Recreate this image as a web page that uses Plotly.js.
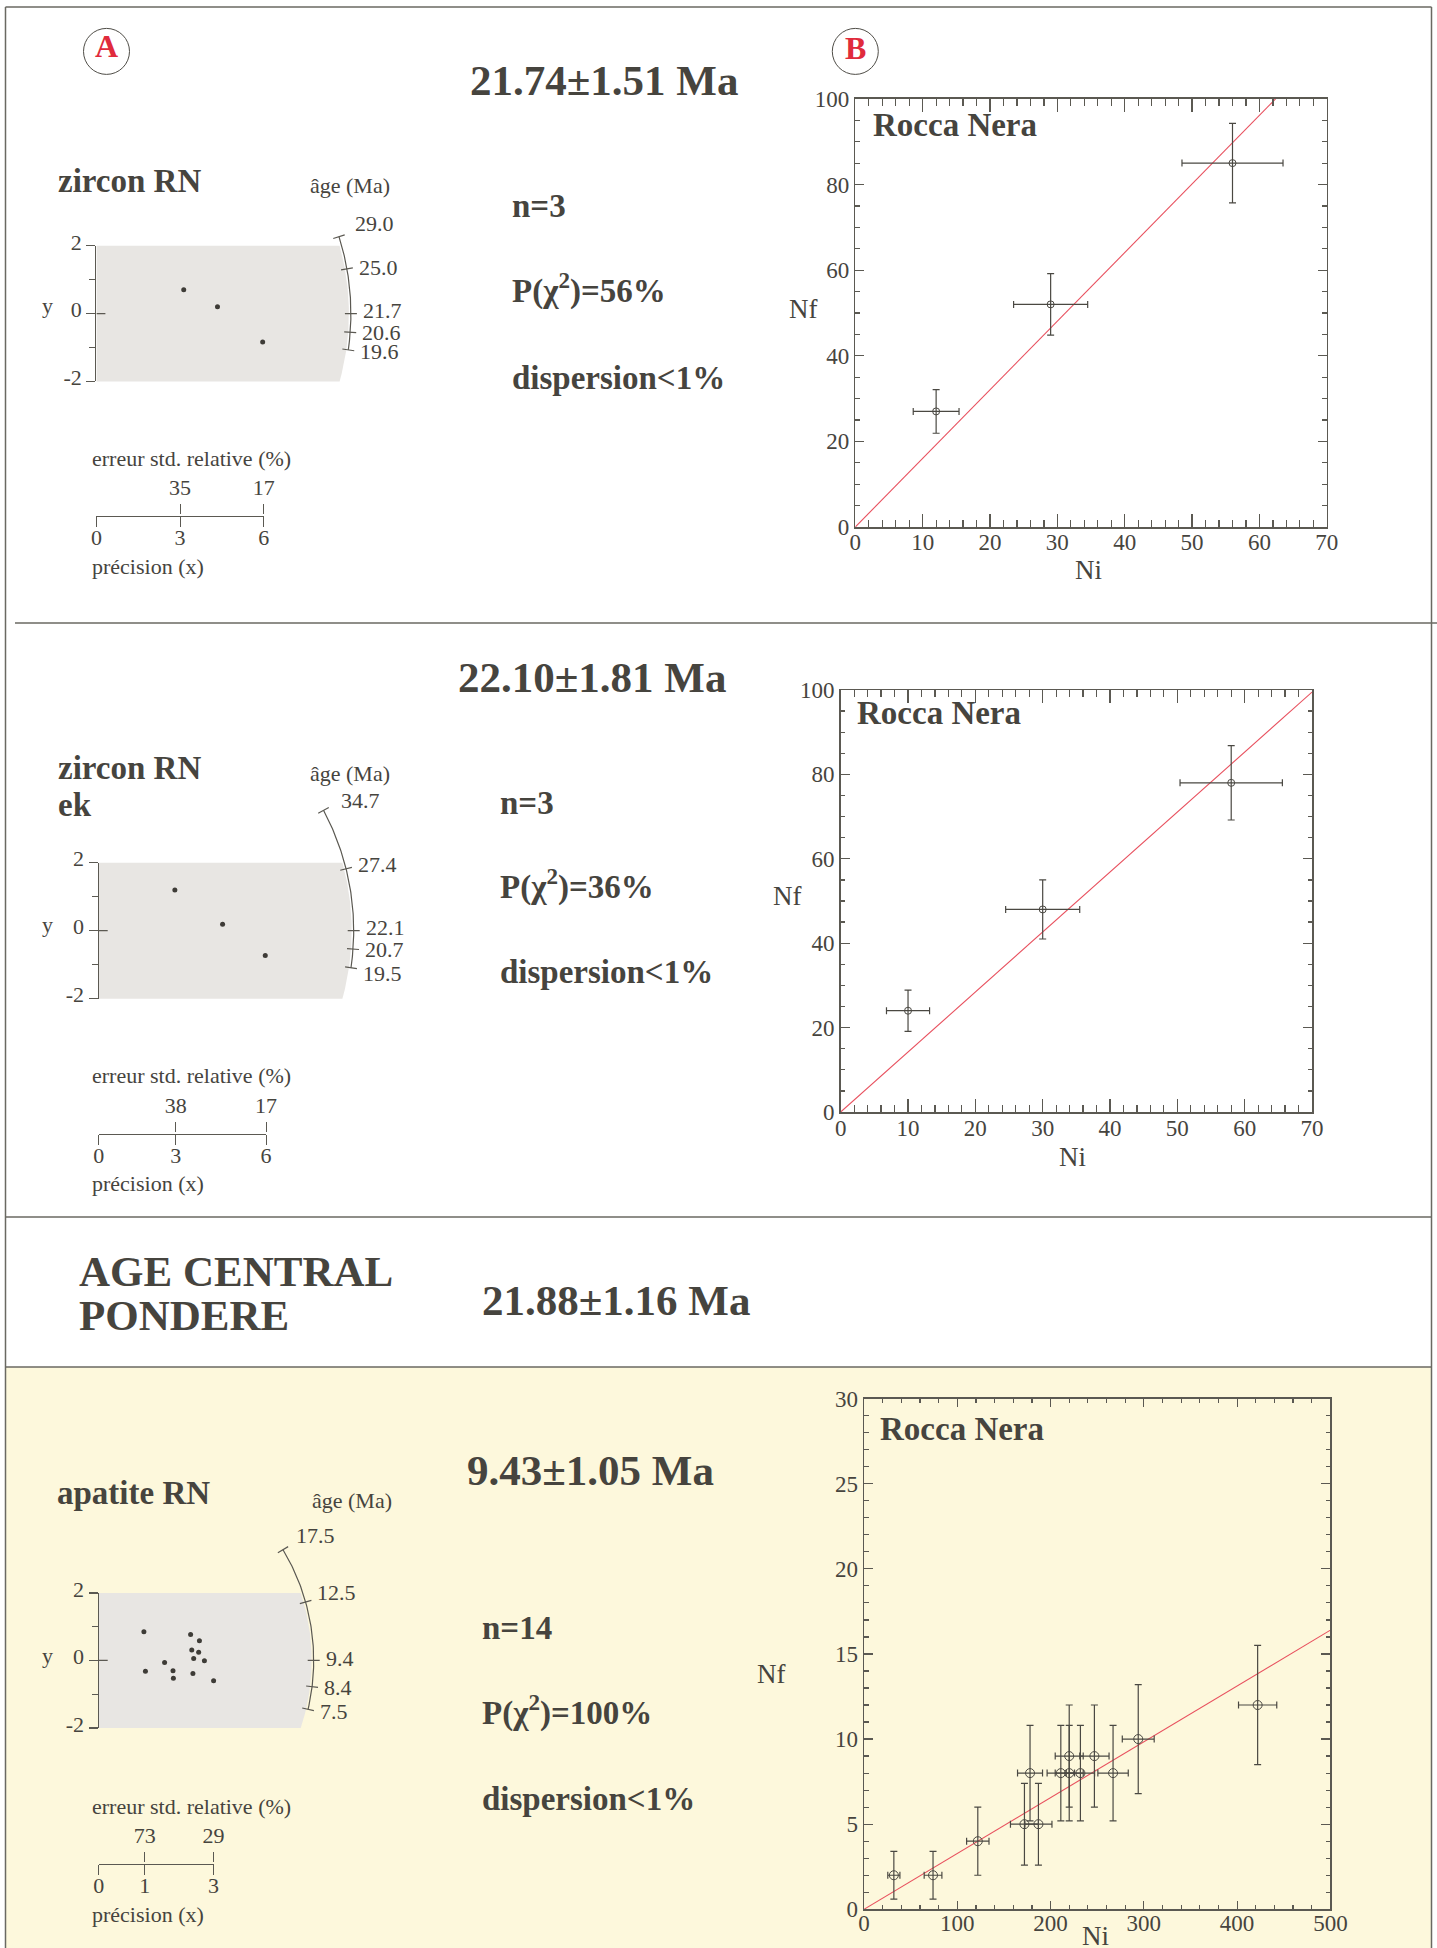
<!DOCTYPE html>
<html>
<head>
<meta charset="utf-8">
<script src="https://cdn.plot.ly/plotly-3.0.1.min.js"></script>
<style>html,body{margin:0;padding:0;background:#fff}#chart{width:1437px;height:1948px}</style>
</head>
<body>
<div id="chart"></div>
<script>
// ================= DATA =================
// --- Panel 1 : zircon RN ---
const zrnPrecision = [3.13, 4.34, 5.96];
const zrnStdEst = [0.70, 0.20, -0.84];
const zrnArcAges = ['29.0', '25.0', '21.7', '20.6', '19.6'];
const zrnArcTickY = [2.27, 1.32, 0.00, -0.55, -1.07];
const zrnPrecTickVals = [0, 3, 6];
const zrnPrecTickText = ['0', '3', '6'];
const zrnRelErrVals = [3, 6];
const zrnRelErrText = ['35', '17'];
const zrnNi = [12, 29, 56];
const zrnNf = [27, 52, 85];
const zrnNiErr = [3.4, 5.5, 7.5];
const zrnNfErr = [5.1, 7.2, 9.3];
const zrnFitNi = [0, 62.4];
const zrnFitNf = [0, 100];

// --- Panel 2 : zircon RN ek ---
const zekPrecision = [2.73, 4.44, 5.97];
const zekStdEst = [1.20, 0.19, -0.73];
const zekArcAges = ['34.7', '27.4', '22.1', '20.7', '19.5'];
const zekArcTickY = [3.54, 1.82, 0.00, -0.54, -1.09];
const zekPrecTickVals = [0, 2.76, 6];
const zekPrecTickText = ['0', '3', '6'];
const zekRelErrVals = [2.76, 6];
const zekRelErrText = ['38', '17'];
const zekNi = [10, 30, 58];
const zekNf = [24, 48, 78];
const zekNiErr = [3.2, 5.5, 7.6];
const zekNfErr = [4.9, 7.0, 8.8];
const zekFitNi = [0, 70];
const zekFitNf = [0, 99.5];

// --- Panel 4 : apatite RN ---
const apPrecision = [1.18, 2.40, 2.63, 2.43, 2.61, 2.48, 2.76, 1.72, 1.22, 1.94, 1.95, 2.46, 3.00];
const apStdEst = [0.85, 0.77, 0.58, 0.31, 0.24, 0.06, -0.01, -0.06, -0.32, -0.31, -0.53, -0.39, -0.60];
const apArcAges = ['17.5', '12.5', '9.4', '8.4', '7.5'];
const apArcTickY = [3.28, 1.73, 0.00, -0.78, -1.45];
const apPrecTickVals = [0, 1.2, 3];
const apPrecTickText = ['0', '1', '3'];
const apRelErrVals = [1.2, 3];
const apRelErrText = ['73', '29'];
const apNi = [32, 74, 122, 172, 187, 178, 211, 220, 220, 232, 247, 267, 294, 422];
const apNf = [2, 2, 4, 5, 5, 8, 8, 9, 8, 8, 9, 8, 10, 12];
const apNiErr = [6.5, 9.5, 12, 15, 14.5, 13.4, 14.7, 15, 15, 15.2, 15.7, 16.3, 17.1, 20.5];
const apNfErr = [1.4, 1.4, 2.0, 2.4, 2.4, 2.8, 2.8, 3.0, 2.8, 2.8, 3.0, 2.8, 3.2, 3.5];
const apFitNi = [0, 500];
const apFitNf = [0, 16.4];

// ================= STYLE / HELPERS =================
const FONT = '"Liberation Serif", "Times New Roman", Times, serif';
const TXT = '#46443e';
const AXC = '#5b5952';
const GRAY = '#e8e6e3';
const YELLOW = '#fdf8dc';
const RED = '#e02b3c';
const FIT = '#e8505e';
const W = 1437, H = 1948;
const px = v => v / W;
const py = v => 1 - v / H;

const layout = {
  width: W, height: H,
  margin: {l: 0, r: 0, t: 0, b: 0},
  paper_bgcolor: '#ffffff',
  plot_bgcolor: 'rgba(0,0,0,0)',
  showlegend: false,
  font: {family: FONT, color: TXT, size: 22},
  shapes: [],
  annotations: []
};
const traces = [];
let axCount = 0;
const axName = (l, n) => l + 'axis' + (n === 1 ? '' : n);
const axId = (l, n) => l + (n === 1 ? '' : n);

function addText(text, x, y, size, extra) {
  layout.annotations.push(Object.assign({
    xref: 'paper', yref: 'paper', x: px(x), y: py(y), text: text,
    showarrow: false, xanchor: 'left', yanchor: 'middle',
    font: {size: size, color: TXT, family: FONT}
  }, extra || {}));
}
function addLine(x0, y0, x1, y1, w) {
  layout.shapes.push({type: 'line', xref: 'paper', yref: 'paper',
    x0: px(x0), y0: py(y0), x1: px(x1), y1: py(y1),
    line: {color: '#6a6962', width: w || 1.5}});
}
function dummy(xa, ya) {
  traces.push({type: 'scatter', x: [], y: [], xaxis: xa, yaxis: ya, hoverinfo: 'skip', showlegend: false});
}

// ---------- radial plot ----------
function radialPanel(c) {
  const n = ++axCount;
  const X = axId('x', n), Y = axId('y', n);
  layout[axName('x', n)] = {domain: [px(c.ox), px(c.ox + c.xSpan * c.ux)], range: [0, c.xSpan], visible: false, anchor: Y, fixedrange: true};
  layout[axName('y', n)] = {domain: [py(c.oy + c.ySpan * c.uy), py(c.oy - c.ySpan * c.uy)], range: [-c.ySpan, c.ySpan], visible: false, anchor: X, fixedrange: true};

  // grey +/-2 band bounded by the arc
  const rg = c.r - 2;
  const gx = [0, 0], gy = [-2, 2];
  for (let i = 0; i <= 60; i++) {
    const yv = 2 - 4 * i / 60;
    const yp = yv * c.uy;
    gx.push(Math.sqrt(rg * rg - yp * yp) / c.ux);
    gy.push(yv);
  }
  traces.push({type: 'scatter', mode: 'lines', x: gx, y: gy, xaxis: X, yaxis: Y,
    fill: 'toself', fillcolor: GRAY, line: {width: 0}, hoverinfo: 'skip'});

  // arc
  const tTop = Math.asin(c.arcTickY[0] * c.uy / c.r);
  const tBot = Math.asin(c.arcTickY[c.arcTickY.length - 1] * c.uy / c.r);
  const ax = [], ay = [];
  for (let i = 0; i <= 80; i++) {
    const t = tTop + (tBot - tTop) * i / 80;
    ax.push(c.r * Math.cos(t) / c.ux);
    ay.push(c.r * Math.sin(t) / c.uy);
  }
  traces.push({type: 'scatter', mode: 'lines', x: ax, y: ay, xaxis: X, yaxis: Y,
    line: {color: AXC, width: 1.2}, hoverinfo: 'skip'});

  // arc ticks and labels
  const tx = [], ty = [];
  c.arcTickY.forEach((v, i) => {
    const t = Math.asin(v * c.uy / c.r);
    tx.push((c.r - 6) * Math.cos(t) / c.ux, (c.r + 6) * Math.cos(t) / c.ux, null);
    ty.push((c.r - 6) * Math.sin(t) / c.uy, (c.r + 6) * Math.sin(t) / c.uy, null);
    const rr = c.r + 9;
    layout.annotations.push({xref: X, yref: Y,
      x: rr * Math.cos(t) / c.ux, y: rr * Math.sin(t) / c.uy,
      text: c.arcAges[i], showarrow: false, xanchor: 'left', yanchor: 'middle',
      xshift: i === 0 ? c.topShift[0] : 1, yshift: c.labShift[i],
      font: {size: 22, color: TXT, family: FONT}});
  });
  // inner part of the y=0 tick
  tx.push(0, 9 / c.ux, null); ty.push(0, 0, null);
  traces.push({type: 'scatter', mode: 'lines', x: tx, y: ty, xaxis: X, yaxis: Y,
    line: {color: AXC, width: 1.2}, hoverinfo: 'skip'});

  // single-grain points
  traces.push({type: 'scatter', mode: 'markers', x: c.prec, y: c.est, xaxis: X, yaxis: Y,
    marker: {size: 5, color: '#3e3c37'}, hoverinfo: 'skip'});

  // visible y axis (-2..2)
  const m = ++axCount;
  const Yv = axId('y', m);
  layout[axName('y', m)] = {
    domain: [py(c.oy + 2 * c.uy), py(c.oy - 2 * c.uy)], range: [-2, 2], anchor: X,
    showline: true, linecolor: AXC, linewidth: 1.2,
    ticks: 'outside', ticklen: 9, tickwidth: 1.2, tickcolor: AXC,
    tickmode: 'array', tickvals: [-2, 0, 2], ticktext: ['-2', '0', '2'],
    ticklabelshift: -4,
    tickfont: {size: 22, color: TXT, family: FONT},
    minor: {tick0: 0, dtick: 1, ticks: 'outside', ticklen: 6, tickwidth: 1.2, tickcolor: AXC},
    showgrid: false, zeroline: false, fixedrange: true
  };
  dummy(X, Yv);

  // precision axis with relative error labels on top
  const p = ++axCount;
  const Xp = axId('x', p), Yp = axId('y', p);
  const xmax = c.precVals[c.precVals.length - 1];
  layout[axName('x', p)] = {
    domain: [px(c.ox), px(c.ox + xmax * c.ux)], range: [0, xmax], anchor: Yp,
    showline: true, linecolor: AXC, linewidth: 1.2,
    ticks: 'outside', ticklen: 10, tickwidth: 1.2, tickcolor: AXC,
    tickmode: 'array', tickvals: c.precVals, ticktext: c.precText,
    ticklabelstandoff: -9,
    tickfont: {size: 22, color: TXT, family: FONT},
    showgrid: false, zeroline: false, fixedrange: true
  };
  layout[axName('y', p)] = {domain: [py(c.precY), py(c.precY - 1)], range: [0, 1], visible: false, anchor: Xp, fixedrange: true};
  const q = ++axCount;
  const Xq = axId('x', q);
  layout[axName('x', q)] = {
    overlaying: Xp, side: 'top', anchor: Yp, range: [0, xmax],
    showline: false, ticks: 'outside', ticklen: 10, tickwidth: 1.2, tickcolor: AXC,
    tickmode: 'array', tickvals: c.relVals, ticktext: c.relText,
    tickfont: {size: 22, color: TXT, family: FONT},
    showgrid: false, zeroline: false, fixedrange: true
  };
  dummy(Xp, Yp);
  dummy(Xq, Yp);
}

// ---------- Nf vs Ni plot ----------
function countPanel(c) {
  const n = ++axCount;
  const X = axId('x', n), Y = axId('y', n);
  const base = {showline: true, linecolor: AXC, linewidth: 1.5, ticks: 'inside', tickcolor: AXC, tickwidth: 1.2,
    showgrid: false, zeroline: false, fixedrange: true, tickfont: {size: 23, color: TXT, family: FONT}};
  const xb = Object.assign({}, base, {domain: [px(c.left), px(c.right)], range: c.xRange, tick0: 0, dtick: c.xDtick,
    ticklen: c.xLen, anchor: Y, ticklabelstandoff: c.xStandoff,
    minor: {tick0: 0, dtick: c.xMinor, ticks: 'inside', ticklen: c.xMinLen, tickcolor: AXC, tickwidth: 1.2}});
  const yb = Object.assign({}, base, {domain: [py(c.bottom), py(c.top)], range: c.yRange, tick0: 0, dtick: c.yDtick,
    ticklen: c.yLen, anchor: X,
    minor: {tick0: 0, dtick: c.yMinor, ticks: 'inside', ticklen: c.yMinLen, tickcolor: AXC, tickwidth: 1.2}});
  layout[axName('x', n)] = xb;
  layout[axName('y', n)] = yb;
  const m = ++axCount;
  const Xt = axId('x', m), Yr = axId('y', m);
  const xt = Object.assign({}, xb, {overlaying: X, side: 'top', showticklabels: false, anchor: Y});
  delete xt.domain; delete xt.ticklabelstandoff;
  const yr = Object.assign({}, yb, {overlaying: Y, side: 'right', showticklabels: false, anchor: X});
  delete yr.domain;
  layout[axName('x', m)] = xt;
  layout[axName('y', m)] = yr;
  dummy(Xt, Y);
  dummy(X, Yr);

  traces.push({type: 'scatter', mode: 'lines', x: c.fitNi, y: c.fitNf, xaxis: X, yaxis: Y,
    line: {color: FIT, width: 1.1}, hoverinfo: 'skip'});
  traces.push({type: 'scatter', mode: 'markers', x: c.Ni, y: c.Nf, xaxis: X, yaxis: Y,
    marker: {symbol: 'circle-open', size: c.msize, color: '#4a4842', line: {width: 1, color: '#4a4842'}},
    error_x: {type: 'data', array: c.NiErr, color: '#4a4842', thickness: 1.2, width: 3.5},
    error_y: {type: 'data', array: c.NfErr, color: '#4a4842', thickness: 1.2, width: 3.5},
    hoverinfo: 'skip'});

  addText('<b>Rocca Nera</b>', c.titleX, c.titleY, 33);
  addText('Nf', c.nfX, c.nfY, 27, {xanchor: 'center'});
  addText('Ni', c.niX, c.niY, 27, {xanchor: 'center'});
}

// ================= BACKGROUND & FRAMES =================
layout.shapes.push({type: 'rect', xref: 'paper', yref: 'paper', layer: 'below',
  x0: px(5.5), x1: px(1431.5), y0: py(1948), y1: py(1367), fillcolor: YELLOW, line: {width: 0}});
addLine(5.5, 7, 1431.5, 7);
addLine(5.5, 7, 5.5, 1948);
addLine(1431.5, 7, 1431.5, 1948);
addLine(15, 623, 1437, 623);
addLine(5.5, 1217, 1431.5, 1217);
addLine(5.5, 1367, 1431.5, 1367);

// circled labels A and B
[[106.5, 51.4, 'A', 46.5], [855.3, 51.4, 'B', 48]].forEach(([cx, cy, l, ly]) => {
  layout.shapes.push({type: 'circle', xref: 'paper', yref: 'paper',
    x0: px(cx - 23), x1: px(cx + 23), y0: py(cy + 23), y1: py(cy - 23),
    line: {color: '#4f4d47', width: 1}});
  addText('<b>' + l + '</b>', cx, ly, 32, {xanchor: 'center', font: {size: 32, color: RED, family: FONT}});
});

// ================= PANEL 1 =================
radialPanel({ox: 96.4, oy: 313.6, ux: 27.9, uy: 33.9, r: 254.5, xSpan: 11, ySpan: 4,
  prec: zrnPrecision, est: zrnStdEst, arcAges: zrnArcAges, arcTickY: zrnArcTickY,
  precVals: zrnPrecTickVals, precText: zrnPrecTickText, relVals: zrnRelErrVals, relText: zrnRelErrText,
  precY: 516, topShift: [5, 10], labShift: [10, 0, 3, 0, 0]});
addText('<b>21.74±1.51 Ma</b>', 468, 80.6, 43);
addText('<b>zircon RN</b>', 56, 181, 33);
addText('âge (Ma)', 308, 185.5, 22);
addText('y', 48, 306, 22, {xanchor: 'center'});
addText('erreur std. relative (%)', 90, 459, 22);
addText('précision (x)', 90, 566, 22);
addText('<b>n=3</b>', 510, 206, 33);
addText('<b>P(χ<sup>2</sup>)=56%</b>', 510, 288.7, 33);
addText('<b>dispersion&lt;1%</b>', 510, 377.6, 33);
countPanel({left: 855.3, right: 1326.8, top: 98.9, bottom: 527,
  xRange: [0, 70], xDtick: 10, xMinor: 2, xLen: 13, xMinLen: 7, xStandoff: -6,
  yRange: [0, 100], yDtick: 20, yMinor: 5, yLen: 9, yMinLen: 4.5,
  Ni: zrnNi, Nf: zrnNf, NiErr: zrnNiErr, NfErr: zrnNfErr, fitNi: zrnFitNi, fitNf: zrnFitNf, msize: 7,
  titleX: 871, titleY: 125.5, nfX: 803.7, nfY: 309.4, niX: 1088, niY: 570.4});

// ================= PANEL 2 =================
radialPanel({ox: 98.7, oy: 930.7, ux: 27.9, uy: 34.0, r: 255, xSpan: 11, ySpan: 4.5,
  prec: zekPrecision, est: zekStdEst, arcAges: zekArcAges, arcTickY: zekArcTickY,
  precVals: zekPrecTickVals, precText: zekPrecTickText, relVals: zekRelErrVals, relText: zekRelErrText,
  precY: 1134, topShift: [8, 6], labShift: [6, 2, 3, 0, -4]});
addText('<b>22.10±1.81 Ma</b>', 456, 677.8, 43);
addText('<b>zircon RN</b>', 56, 768.3, 33);
addText('<b>ek</b>', 56, 804.6, 33);
addText('âge (Ma)', 308, 773.4, 22);
addText('y', 48, 924, 22, {xanchor: 'center'});
addText('erreur std. relative (%)', 90, 1075, 22);
addText('précision (x)', 90, 1183, 22);
addText('<b>n=3</b>', 498, 802.7, 33);
addText('<b>P(χ<sup>2</sup>)=36%</b>', 498, 884, 33);
addText('<b>dispersion&lt;1%</b>', 498, 972, 33);
countPanel({left: 840.7, right: 1312, top: 690, bottom: 1112,
  xRange: [0, 70], xDtick: 10, xMinor: 2, xLen: 13, xMinLen: 7, xStandoff: -5,
  yRange: [0, 100], yDtick: 20, yMinor: 5, yLen: 9, yMinLen: 4.5,
  Ni: zekNi, Nf: zekNf, NiErr: zekNiErr, NfErr: zekNfErr, fitNi: zekFitNi, fitNf: zekFitNf, msize: 7,
  titleX: 855, titleY: 713, nfX: 787.7, nfY: 896.5, niX: 1072, niY: 1157});

// ================= PANEL 3 =================
addText('<b>AGE CENTRAL</b>', 77, 1271, 43);
addText('<b>PONDERE</b>', 77, 1315, 43);
addText('<b>21.88±1.16 Ma</b>', 480, 1300, 43);

// ================= PANEL 4 =================
radialPanel({ox: 98.7, oy: 1660.4, ux: 38.3, uy: 33.75, r: 215, xSpan: 8, ySpan: 4.5,
  prec: apPrecision, est: apStdEst, arcAges: apArcAges, arcTickY: apArcTickY,
  precVals: apPrecTickVals, precText: apPrecTickText, relVals: apRelErrVals, relText: apRelErrText,
  precY: 1864, topShift: [3, 10], labShift: [10, 7, 2, 0, 0]});
addText('<b>9.43±1.05 Ma</b>', 465, 1470.2, 43);
addText('<b>apatite RN</b>', 55, 1493, 33);
addText('âge (Ma)', 310, 1500.6, 22);
addText('y', 48, 1655.6, 22, {xanchor: 'center'});
addText('erreur std. relative (%)', 90, 1806, 22);
addText('précision (x)', 90, 1914, 22);
addText('<b>n=14</b>', 480, 1628, 33);
addText('<b>P(χ<sup>2</sup>)=100%</b>', 480, 1710, 33);
addText('<b>dispersion&lt;1%</b>', 480, 1799, 33);
countPanel({left: 864, right: 1330.4, top: 1398.6, bottom: 1909.3,
  xRange: [0, 500], xDtick: 100, xMinor: 20, xLen: 8, xMinLen: 4, xStandoff: -7,
  yRange: [0, 30], yDtick: 5, yMinor: 1, yLen: 9, yMinLen: 4.5,
  Ni: apNi, Nf: apNf, NiErr: apNiErr, NfErr: apNfErr, fitNi: apFitNi, fitNf: apFitNf, msize: 9,
  titleX: 878, titleY: 1428.7, nfX: 771, nfY: 1674.4, niX: 1095, niY: 1935.5});

Plotly.newPlot('chart', traces, layout, {staticPlot: true, displayModeBar: false});
</script>
</body>
</html>
